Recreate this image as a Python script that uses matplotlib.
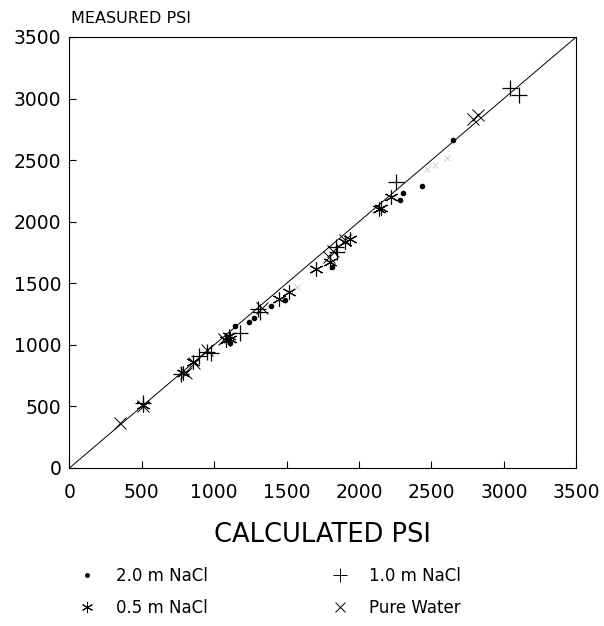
import matplotlib
matplotlib.use("Agg")
import matplotlib.pyplot as plt
from matplotlib.lines import Line2D

plt.rcParams['font.family'] = ['DejaVu Sans']

# 2.0 m NaCl (dots)
two_m_x = [2646, 2437, 2301, 2282, 1810, 1491, 1389, 1274, 1240, 1143, 1111]
two_m_y = [2662, 2292, 2235, 2175, 1634, 1364, 1318, 1215, 1188, 1153, 1012]
# 0.5 m NaCl (asterisks)
half_m_x = [505, 786, 855, 1080, 1100, 1110, 1449, 1516, 1702, 1799, 1903, 1937, 2140, 2155, 2220]
half_m_y = [511, 774, 858, 1040, 1070, 1050, 1374, 1426, 1615, 1670, 1832, 1859, 2102, 2115, 2202]
# 1.0 m NaCl (plus)
one_m_x = [3042, 3107, 2253, 1840, 1845, 1316, 1300, 1177, 975, 897, 768, 505, 947]
one_m_y = [3082, 3028, 2324, 1796, 1756, 1269, 1290, 1093, 936, 909, 760, 530, 944]
# Pure water (x)
pure_x = [349, 505, 805, 862, 950, 1069, 1330, 1794, 1820, 1903, 2789, 2823]
pure_y = [363, 500, 774, 850, 960, 1044, 1300, 1715, 1760, 1850, 2838, 2865]
# faintly printed pure-water marks
faint_x = [1569, 2467, 2525, 2605]
faint_y = [1472, 2432, 2460, 2514]

ticks = [0, 500, 1000, 1500, 2000, 2500, 3000, 3500]

fig = plt.figure(figsize=(6.04, 6.26), dpi=100)
ax = fig.add_axes([0.115, 0.2524, 0.839, 0.6885])

ax.plot([0, 3500], [0, 3500], color='black', lw=0.7)

ax.plot(two_m_x, two_m_y, ls='none', marker='o', ms=3, color='black')
ax.plot(half_m_x, half_m_y, ls='none', marker=(6, 2, 0), ms=10, mew=0.8, color='black')
ax.plot(one_m_x, one_m_y, ls='none', marker='+', ms=12, mew=0.9, color='black')
ax.plot(pure_x, pure_y, ls='none', marker='x', ms=8, mew=0.7, color='black')
ax.plot(faint_x, faint_y, ls='none', marker='x', ms=5, mew=0.5, color='#bbbbbb')

ax.set_xlim(0, 3500)
ax.set_ylim(0, 3500)
ax.set_xticks(ticks)
ax.set_yticks(ticks)
ax.tick_params(direction='in', length=5, width=0.8, labelsize=13.5)
ax.tick_params(axis='y', pad=6)
ax.tick_params(axis='x', pad=11)
for s in ax.spines.values():
    s.set_linewidth(0.8)

ax.set_xlabel('CALCULATED PSI', fontsize=18.5, labelpad=14)
fig.text(0.117, 0.970, 'MEASURED PSI', fontsize=11.5, ha='left', va='center')

handles = [
    Line2D([], [], ls='none', marker='o', ms=2.5, color='black'),
    Line2D([], [], ls='none', marker=(6, 2, 0), ms=8, mew=0.7, color='black'),
    Line2D([], [], ls='none', marker='+', ms=10, mew=0.7, color='black'),
    Line2D([], [], ls='none', marker='x', ms=7, mew=0.7, color='black'),
]
labels = ['2.0 m NaCl', '0.5 m NaCl', '1.0 m NaCl', 'Pure Water']
fig.legend(handles, labels, ncol=2, frameon=False, loc='upper left',
           bbox_to_anchor=(0.098, 0.118), fontsize=12, handlelength=1.5,
           handletextpad=1.0, columnspacing=7.2, labelspacing=0.85)

fig.savefig('out.png', dpi=100)
